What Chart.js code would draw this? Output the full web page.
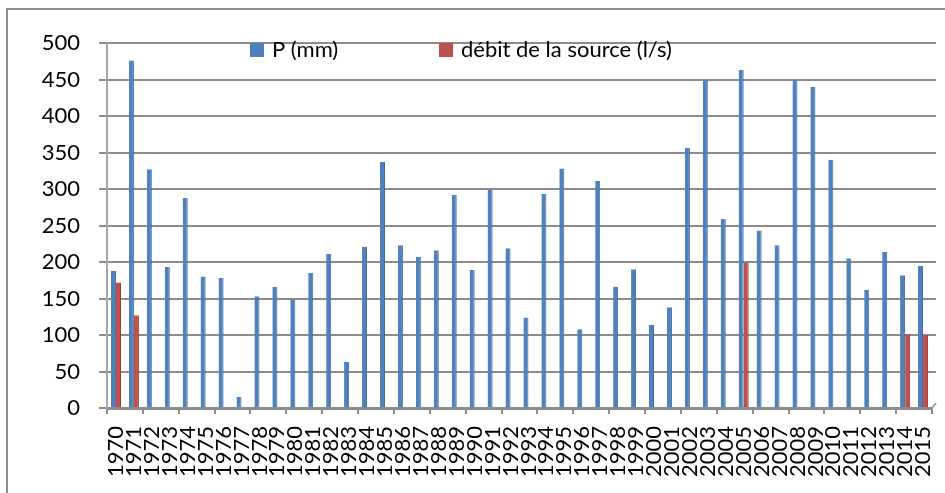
<!DOCTYPE html>
<html>
<head>
<meta charset="utf-8">
<script src="https://cdn.jsdelivr.net/npm/chart.js@4/dist/chart.umd.min.js"></script>
<style>
  html, body { margin: 0; padding: 0; background: #ffffff; }
  #wrap { width: 945px; height: 493px; }
</style>
</head>
<body>
<div id="wrap"><canvas id="c" width="945" height="493"></canvas></div>
<script>
// Années d'observation
const years = ['1970','1971','1972','1973','1974','1975','1976','1977','1978','1979',
  '1980','1981','1982','1983','1984','1985','1986','1987','1988','1989',
  '1990','1991','1992','1993','1994','1995','1996','1997','1998','1999',
  '2000','2001','2002','2003','2004','2005','2006','2007','2008','2009',
  '2010','2011','2012','2013','2014','2015'];

// Précipitations annuelles P (mm)
const pluie = [188, 476, 327, 193, 288, 180, 178, 15, 153, 166,
  149, 185, 211, 63, 221, 337, 223, 207, 216, 292,
  189, 299, 219, 124, 293, 328, 108, 311, 166, 190,
  114, 138, 356, 449, 259, 463, 243, 223, 449, 440,
  340, 205, 162, 214, 182, 195];

// Débit de la source (l/s), mesuré seulement certaines années
const debit = [172, 127, null, null, null, null, null, null, null, null,
  null, null, null, null, null, null, null, null, null, null,
  null, null, null, null, null, null, null, null, null, null,
  null, null, null, null, null, 199, null, null, null, null,
  null, null, null, null, 101, 100];

// Graduations de l'axe vertical
const yTicks = [0, 50, 100, 150, 200, 250, 300, 350, 400, 450, 500];

const seriesNames = ['P (mm)', 'débit de la source (l/s)'];
const seriesColors = ['#4F81BD', '#C0504D'];
const seriesEdges = ['#3D6B9F', '#9E3B38'];

const FONT = 'Lato, Carlito, "Liberation Sans", sans-serif';
const GRID = '#8c8c8c';

// Cadre extérieur (bords haut et gauche) et fond blanc
const framePlugin = {
  id: 'frame',
  beforeDraw(chart) {
    const ctx = chart.ctx;
    ctx.save();
    ctx.fillStyle = '#ffffff';
    ctx.fillRect(0, 0, chart.width, chart.height);
    ctx.strokeStyle = '#8e8e8e';
    ctx.lineWidth = 2;
    ctx.beginPath();
    ctx.moveTo(chart.width, 9);
    ctx.lineTo(7, 9);
    ctx.lineTo(7, chart.height);
    ctx.stroke();
    ctx.restore();
  }
};

// Paroi du fond : les lignes de quadrillage dépassent un peu à droite
const wallPlugin = {
  id: 'wall',
  beforeDatasetsDraw(chart) {
    const { ctx, chartArea, scales } = chart;
    ctx.save();
    ctx.strokeStyle = GRID;
    ctx.lineWidth = 2;
    yTicks.forEach(v => {
      if (v === 0) return;
      const y = Math.round(scales.y.getPixelForValue(v));
      ctx.beginPath();
      ctx.moveTo(chartArea.right - 1, y);
      ctx.lineTo(chartArea.right + 4, y);
      ctx.stroke();
    });
    // petite arête du plancher
    const y0 = scales.y.getPixelForValue(0);
    ctx.lineWidth = 1.5;
    ctx.beginPath();
    ctx.moveTo(chartArea.right, y0);
    ctx.lineTo(chartArea.right + 4, y0 - 5);
    ctx.stroke();
    ctx.restore();
  }
};

// Légende posée sur le haut de la zone de tracé
const legendPlugin = {
  id: 'topLegend',
  afterDraw(chart) {
    const { ctx, chartArea } = chart;
    const offsets = [143, 332];
    ctx.save();
    ctx.font = '22px ' + FONT;
    ctx.textBaseline = 'alphabetic';
    ctx.textAlign = 'left';
    chart.data.datasets.forEach((ds, i) => {
      const x = chartArea.left + offsets[i];
      ctx.fillStyle = ds.backgroundColor;
      ctx.fillRect(x, 43, 14, 14);
      ctx.fillStyle = '#000000';
      ctx.fillText(ds.label, x + 22, 57);
    });
    ctx.restore();
  }
};

function build() {
  new Chart(document.getElementById('c'), {
    type: 'bar',
    data: {
      labels: years,
      datasets: [
        {
          label: seriesNames[0],
          data: pluie,
          backgroundColor: seriesColors[0],
          borderColor: seriesEdges[0],
          borderWidth: { right: 1 },
          borderSkipped: false,
          categoryPercentage: 0.56,
          barPercentage: 1.0
        },
        {
          label: seriesNames[1],
          data: debit,
          backgroundColor: seriesColors[1],
          borderColor: seriesEdges[1],
          borderWidth: { right: 1 },
          borderSkipped: false,
          categoryPercentage: 0.56,
          barPercentage: 1.0
        }
      ]
    },
    options: {
      responsive: false,
      animation: false,
      events: [],
      layout: { padding: { left: 0, top: 43, right: 13, bottom: 0 } },
      plugins: {
        legend: { display: false },
        tooltip: { enabled: false },
        title: { display: false }
      },
      scales: {
        x: {
          type: 'category',
          offset: true,
          afterFit(scale) {
            scale.height = 85;
            scale.paddingLeft = 0;
            scale.paddingRight = 0;
          },
          grid: {
            offset: true,
            drawOnChartArea: false,
            drawTicks: true,
            tickLength: 6,
            lineWidth: 2,
            color(ctx) {
              return (ctx.index === undefined || ctx.index % 2 === 0) ? GRID : 'rgba(0,0,0,0)';
            }
          },
          border: { display: true, color: GRID, width: 3 },
          ticks: {
            autoSkip: false,
            maxRotation: 90,
            minRotation: 90,
            padding: 12,
            color: '#000000',
            font: { family: FONT, size: 22 }
          }
        },
        y: {
          min: 0,
          max: 500,
          afterFit(scale) {
            scale.width = 107;
            scale.paddingTop = 0;
            scale.paddingBottom = 0;
          },
          afterBuildTicks(scale) { scale.ticks = yTicks.map(v => ({ value: v })); },
          grid: {
            drawTicks: true,
            tickLength: 8,
            lineWidth: 2,
            color: GRID
          },
          border: { display: true, color: '#a6a6a6', width: 2 },
          ticks: {
            padding: 19,
            color: '#000000',
            font: { family: FONT, size: 22 }
          }
        }
      }
    },
    plugins: [framePlugin, wallPlugin, legendPlugin]
  });
}

if (document.fonts && document.fonts.load) {
  document.fonts.load('22px Lato').then(build, build);
} else {
  build();
}
</script>
</body>
</html>
